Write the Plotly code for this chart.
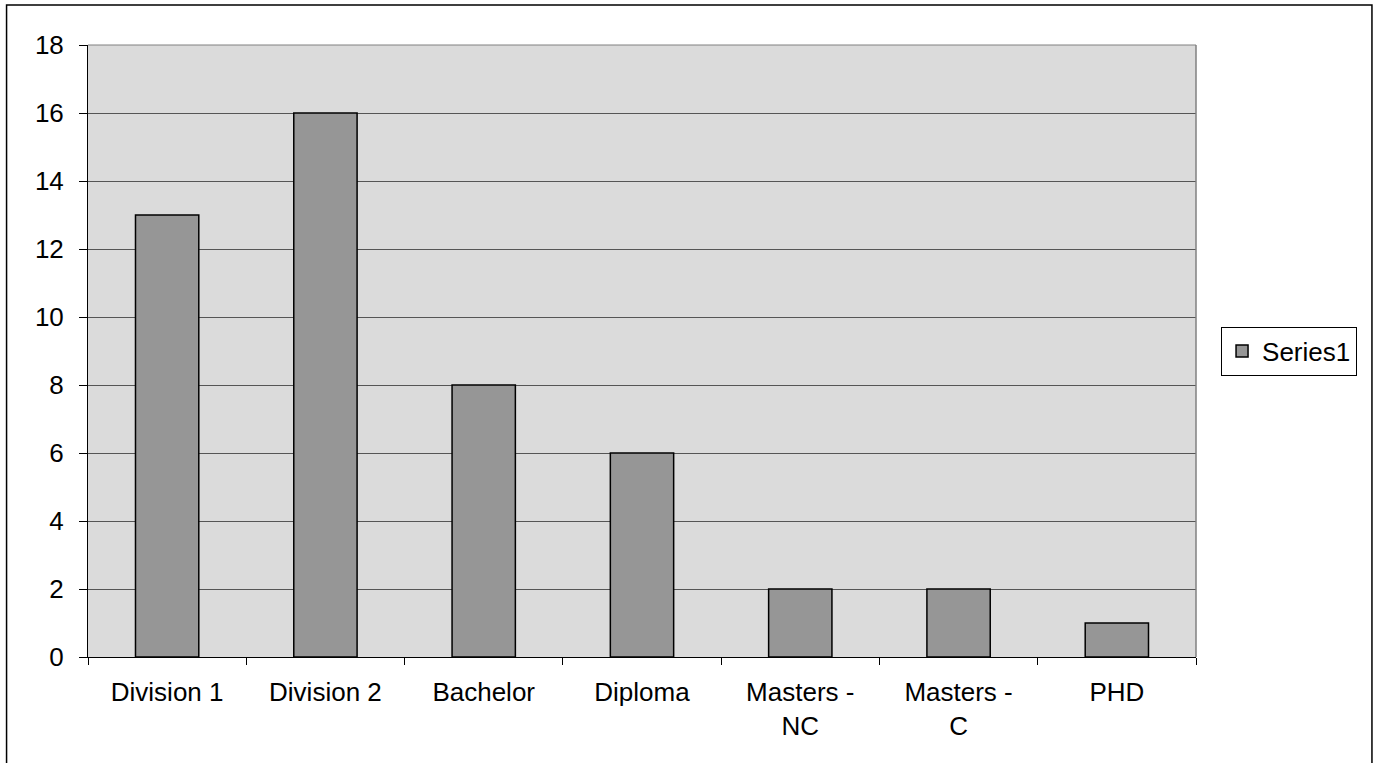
import plotly.graph_objects as go

categories = ["Division 1", "Division 2", "Bachelor", "Diploma", "Masters -<br>NC", "Masters -<br>C", "PHD"]
values = [13, 16, 8, 6, 2, 2, 1]
series_name = "Series1"
y_ticks = [0, 2, 4, 6, 8, 10, 12, 14, 16, 18]

FONT = "Liberation Sans, Arial, sans-serif"

fig = go.Figure()
fig.add_trace(go.Bar(
    x=categories, y=values, name=series_name,
    marker=dict(color="#969696", line=dict(color="#000000", width=1.5)),
    showlegend=True,
))

fig.update_layout(
    width=1377, height=763,
    margin=dict(l=88, r=181, t=45, b=106),
    paper_bgcolor="white",
    plot_bgcolor="#DBDBDB",
    bargap=0.6,
    font=dict(family=FONT, size=26, color="black"),
    showlegend=True,
    legend=dict(
        x=1.0226, xanchor="left", y=0.5, yanchor="middle",
        bordercolor="#000000", borderwidth=1,
        font=dict(family=FONT, size=26, color="black"),
        bgcolor="white",
        tracegroupgap=0,
    ),
)

fig.update_xaxes(
    showgrid=False, showline=True, linecolor="black", linewidth=1,
    ticks="outside", ticklen=7, tickcolor="black", tickwidth=1,
    tickson="boundaries",
    ticklabelstandoff=12,
    tickfont=dict(family=FONT, size=26, color="black"),
)
fig.update_yaxes(
    range=[0, 18], tickvals=y_ticks,
    showgrid=True, gridcolor="#555555", gridwidth=1,
    showline=True, linecolor="black", linewidth=1,
    ticks="outside", ticklen=8, tickcolor="black", tickwidth=1,
    ticklabelstandoff=10,
    tickfont=dict(family=FONT, size=26, color="black"),
    zeroline=False,
)

# plot-area border (top and right edges)
fig.add_shape(type="line", xref="paper", yref="paper", x0=0, x1=1, y0=1, y1=1,
              line=dict(color="#808080", width=1))
fig.add_shape(type="line", xref="paper", yref="paper", x0=1, x1=1, y0=0, y1=1,
              line=dict(color="#808080", width=1.5))
# outer chart border
fig.add_shape(type="rect", xref="paper", yref="paper",
              x0=-0.0735, x1=1.1588, y0=-0.1846, y1=1.0654,
              line=dict(color="black", width=1.5), fillcolor="rgba(0,0,0,0)")

fig.write_html("out.html")
